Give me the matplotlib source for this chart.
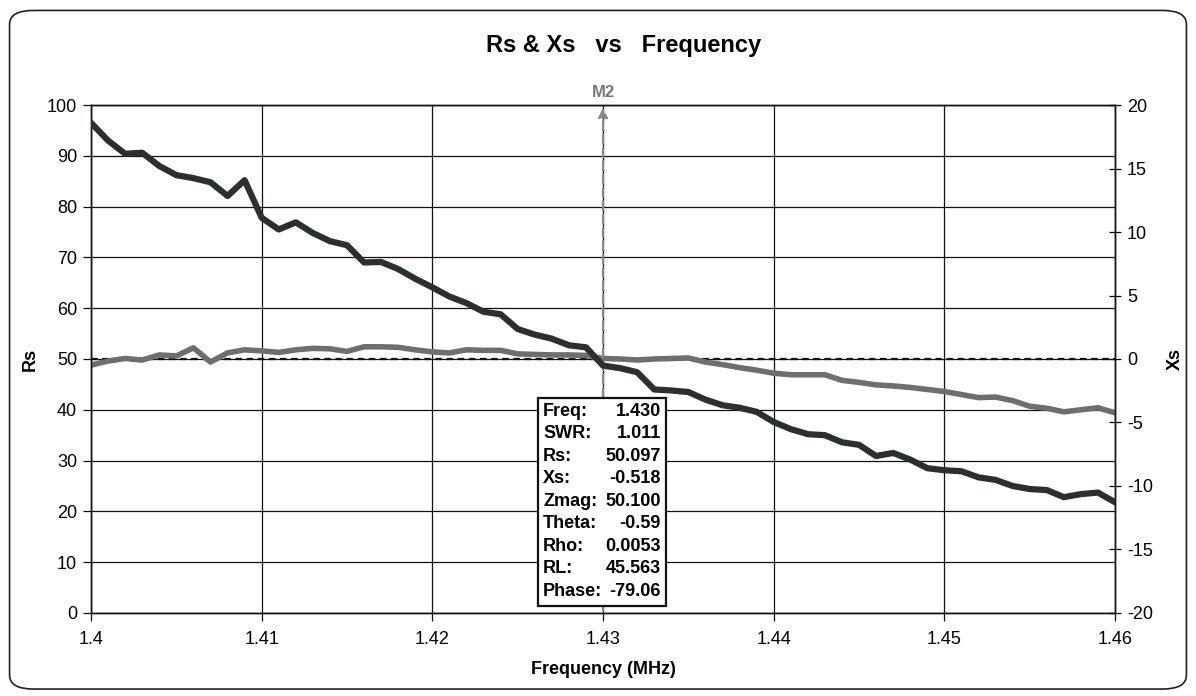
# Rs & Xs vs Frequency, with marker M2 readout
import matplotlib.pyplot as plt
from matplotlib.patches import FancyBboxPatch
import numpy as np

plt.rcParams['font.family'] = ['Liberation Sans', 'DejaVu Sans']
plt.rcParams['axes.unicode_minus'] = False

# frequency sweep, 1 kHz steps
freq = [round(1.4 + k * 0.001, 3) for k in range(61)]

# series resistance (left axis)
rs = [48.8, 49.6, 50.1, 49.8, 50.8, 50.6, 52.2, 49.4, 51.2, 51.8,
      51.6, 51.3, 51.8, 52.1, 52.0, 51.5, 52.4, 52.4, 52.3, 51.8,
      51.4, 51.2, 51.8, 51.7, 51.7, 51.0, 50.9, 50.8, 50.8, 50.7,
      50.1, 50.0, 49.8, 50.0, 50.1, 50.2, 49.4, 48.9, 48.3, 47.8,
      47.2, 46.9, 46.9, 46.9, 45.8, 45.4, 44.9, 44.7, 44.4, 44.0,
      43.6, 43.0, 42.4, 42.5, 41.8, 40.7, 40.3, 39.6, 40.0, 40.4,
      39.4]

# series reactance (right axis)
xs = [18.6, 17.2, 16.16, 16.24, 15.2, 14.48, 14.24, 13.92, 12.84, 14.08,
      11.12, 10.2, 10.76, 9.92, 9.28, 8.96, 7.6, 7.64, 7.08, 6.32,
      5.64, 4.92, 4.4, 3.72, 3.52, 2.36, 1.92, 1.6, 1.08, 0.92,
      -0.52, -0.72, -1.04, -2.4, -2.48, -2.6, -3.2, -3.64, -3.84, -4.16,
      -4.96, -5.52, -5.92, -6.0, -6.56, -6.76, -7.64, -7.4, -7.92, -8.6,
      -8.76, -8.84, -9.32, -9.52, -10.0, -10.24, -10.32, -10.88, -10.64, -10.52,
      -11.28]

marker_freq = 1.430
readout_labels = ['Freq:', 'SWR:', 'Rs:', 'Xs:', 'Zmag:', 'Theta:', 'Rho:', 'RL:', 'Phase:']
readout_values = ['1.430', '1.011', '50.097', '-0.518', '50.100', '-0.59', '0.0053', '45.563', '-79.06']

fig = plt.figure(figsize=(11.96, 6.96), dpi=100)
fig.patches.append(FancyBboxPatch((0.008, 0.01), 0.984, 0.975, boxstyle='round,pad=0,rounding_size=0.02',
                                  transform=fig.transFigure, fill=False, edgecolor='#222222', linewidth=1.2))

ax = fig.add_axes([0.0761, 0.1193, 0.8562, 0.7298])
ax2 = ax.twinx()

ax.set_xlim(1.4, 1.46)
ax.set_ylim(0, 100)
ax2.set_ylim(-20, 20)
ax.set_xticks(np.arange(1.4, 1.4601, 0.01))
ax.set_xticklabels(['1.4', '1.41', '1.42', '1.43', '1.44', '1.45', '1.46'])
ax.set_yticks(range(0, 101, 10))
ax2.set_yticks(range(-20, 21, 5))

ax.grid(True, color='#111111', linewidth=0.9)
ax.tick_params(axis='both', labelsize=13, color='#111111', length=6, width=0.9, pad=4)
ax.tick_params(axis='x', pad=7)
ax2.tick_params(axis='y', labelsize=13, direction='inout', length=9, width=0.9, pad=4)
for a in (ax, ax2):
    for s in a.spines.values():
        s.set_color('#111111')
        s.set_linewidth(1.0)

ax.axhline(50, color='#111111', linestyle=(0, (3, 2)), linewidth=1.6, zorder=3)

ax.plot(freq, rs, color='#6e6e6e', linewidth=4.0, zorder=4)
ax2.plot(freq, xs, color='#2b302d', linewidth=4.5, zorder=4)

# marker line with arrow
ax.annotate('', xy=(marker_freq, 100), xytext=(marker_freq, 0),
            arrowprops=dict(arrowstyle='-|>', color='#8a8a8a', linestyle=(0, (4, 2)), linewidth=1.6,
                            mutation_scale=14), zorder=5)
ax.text(marker_freq, 100.9, 'M2', ha='center', va='bottom', fontsize=12, fontweight='bold', color='#777777')

ax2.set_zorder(ax.get_zorder() + 1)
ax2.patch.set_visible(False)

# readout box (drawn on the top axes so it covers both lines)
box_x0, box_x1 = 1.42619, 1.43369
box_bottom, box_top, row_h = 1.4, 42.3, 4.43
ax2.add_patch(plt.Rectangle((box_x0, box_bottom * 0.4 - 20), box_x1 - box_x0, (box_top - box_bottom) * 0.4,
                            facecolor='white', edgecolor='#111111', linewidth=1.6, zorder=8))
for i, (lab, val) in enumerate(zip(readout_labels, readout_values)):
    y = (box_top - 2.6 - i * row_h) * 0.4 - 20
    ax2.text(box_x0 + 0.0003, y, lab, ha='left', va='center', fontsize=13, fontweight='bold', zorder=9)
    ax2.text(box_x1 - 0.0003, y, val, ha='right', va='center', fontsize=13, fontweight='bold', zorder=9)

ax.set_xlabel('Frequency (MHz)', fontsize=13, fontweight='bold', labelpad=9)
ax.set_ylabel('Rs', fontsize=13, fontweight='bold', labelpad=6)
ax2.set_ylabel('Xs', fontsize=13, fontweight='bold', labelpad=10)
fig.text(0.521, 0.935, 'Rs & Xs   vs   Frequency', ha='center', va='center', fontsize=17, fontweight='bold')

fig.savefig('out.png', dpi=100)
